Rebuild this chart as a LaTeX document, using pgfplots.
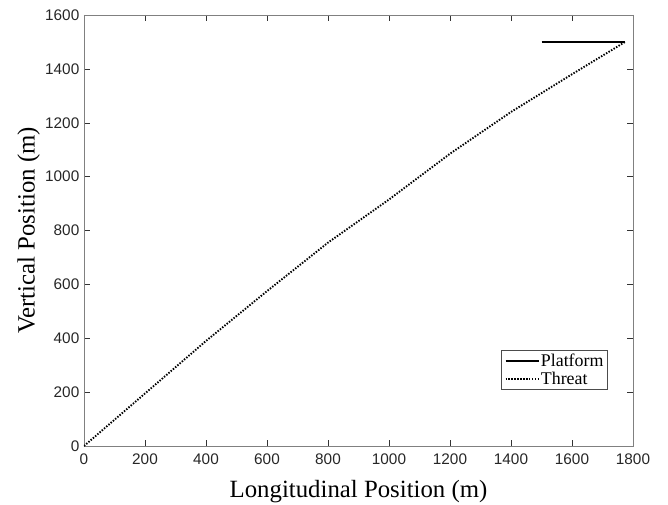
\documentclass[border=0pt]{standalone}
\usepackage{fontspec}
\setmainfont{Liberation Serif}
\setsansfont{Liberation Sans}
\usepackage{pgfplots}
\pgfplotsset{compat=1.18}
\usetikzlibrary{calc}

\begin{document}
\begin{tikzpicture}
\begin{axis}[
  name=ax,
  scale only axis,
  width=411.75pt, height=323.25pt,
  xmin=0, xmax=1800, ymin=0, ymax=1600,
  xtick={0,200,...,1800}, ytick={0,200,...,1600},
  axis line style={draw=black!50},
  major tick style={draw=black!80},
  major tick length=4.5pt,
  tick label style={font=\sffamily\fontsize{11.5}{13}\selectfont, text=black!85},
  xticklabel style={yshift=-2pt},
  /pgf/number format/assume math mode=true,
  /pgf/number format/1000 sep={},
  xlabel={Longitudinal Position (m)},
  ylabel={Vertical Position (m)},
  label style={font=\fontsize{18.6}{21}\selectfont},
  xlabel style={yshift=-5pt},
  ylabel style={yshift=-3pt},
  legend cell align=left,
  legend style={at={(0.953,0.13)}, anchor=south east,
    font=\fontsize{13.4}{14}\selectfont,
    draw=black!70, inner sep=2pt, row sep=1.5pt,
    nodes={inner sep=0.6pt}},
  legend image code/.code={\draw[#1] (0pt,0pt) -- (25pt,0pt);},
]
\addplot[black, line width=1.9pt] coordinates {(1500,1500)(1774,1500)};
\addlegendentry{Platform}
\addplot[black, line width=1.4pt, dash pattern=on 1.1pt off 1.1pt] coordinates
  {(0,0)(200,195)(400,390)(600,575)(800,755)(1000,915)
   (1200,1085)(1400,1240)(1600,1380)(1774,1500)};
\addlegendentry{Threat}
\end{axis}
\pgfresetboundingbox
\path ($(ax.south west)+(-63pt,-43.5pt)$) rectangle ($(ax.south west)+(438pt,334.5pt)$);
\end{tikzpicture}
\end{document}
